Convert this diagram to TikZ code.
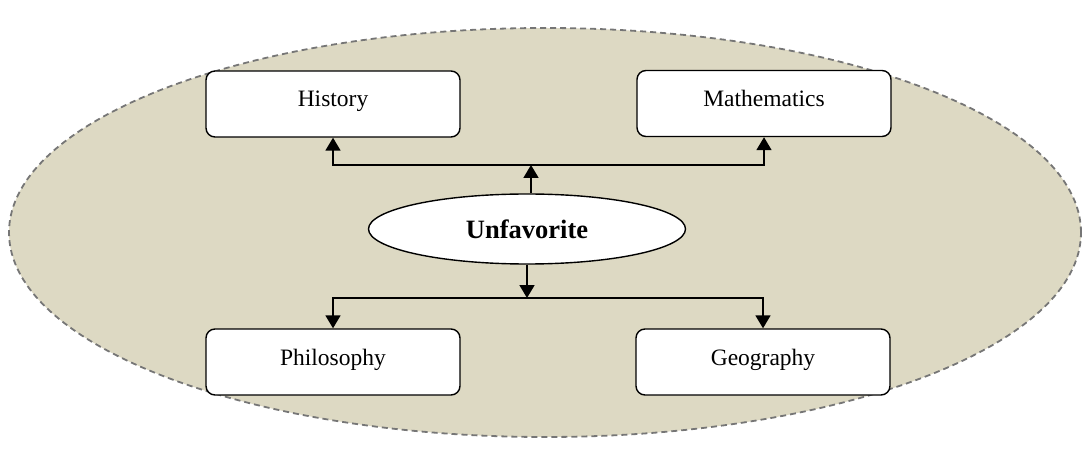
\documentclass[tikz,border=0pt]{standalone}
\usepackage{fontspec}
\setmainfont{Liberation Serif}
\usepackage{tikz}
\usetikzlibrary{shapes.geometric,arrows.meta,positioning,calc}
\definecolor{pool}{RGB}{221,217,195}
\definecolor{rim}{RGB}{118,118,118}

\begin{document}
\begin{tikzpicture}[
  x=1pt,y=-1pt,
  subj/.style={draw,rounded corners=9pt,fill=white,line width=1.4pt,minimum width=254pt,minimum height=66pt,inner sep=0pt,text height=16pt,text depth=10pt,font=\fontsize{23.5}{28}\selectfont},
  core/.style={draw,ellipse,fill=white,line width=1.4pt,minimum width=317pt,minimum height=70pt,inner sep=0pt,font=\fontsize{26.5}{31}\selectfont\bfseries},
  ar/.style={line width=1.8pt,-{Triangle[length=13pt,width=15pt]}}
]
\useasboundingbox (0,0) rectangle (1089,454);
\draw[rim,dash pattern=on 6pt off 4pt,line width=1.8pt,fill=pool] (545,232.5) ellipse [x radius=536pt,y radius=204.5pt];
\node[core] (unfav) at (527,229) {Unfavorite};
\node[subj] (hist) at (333,104) {History};
\node[subj] (math) at (764,103.5) {Mathematics};
\node[subj] (phil) at (333,362) {Philosophy};
\node[subj] (geog) at (763,362) {Geography};
\coordinate (up) at (531,165);
\coordinate (dn) at (unfav.south |- 0,298);
\draw[ar] (up |- unfav.north)--(up); \draw[ar] (up)-|(hist.south); \draw[ar] (up)-|(math.south);
\draw[ar] (unfav.south)--(dn); \draw[ar] (dn)-|(phil.north); \draw[ar] (dn)-|(geog.north);
\end{tikzpicture}
\end{document}
